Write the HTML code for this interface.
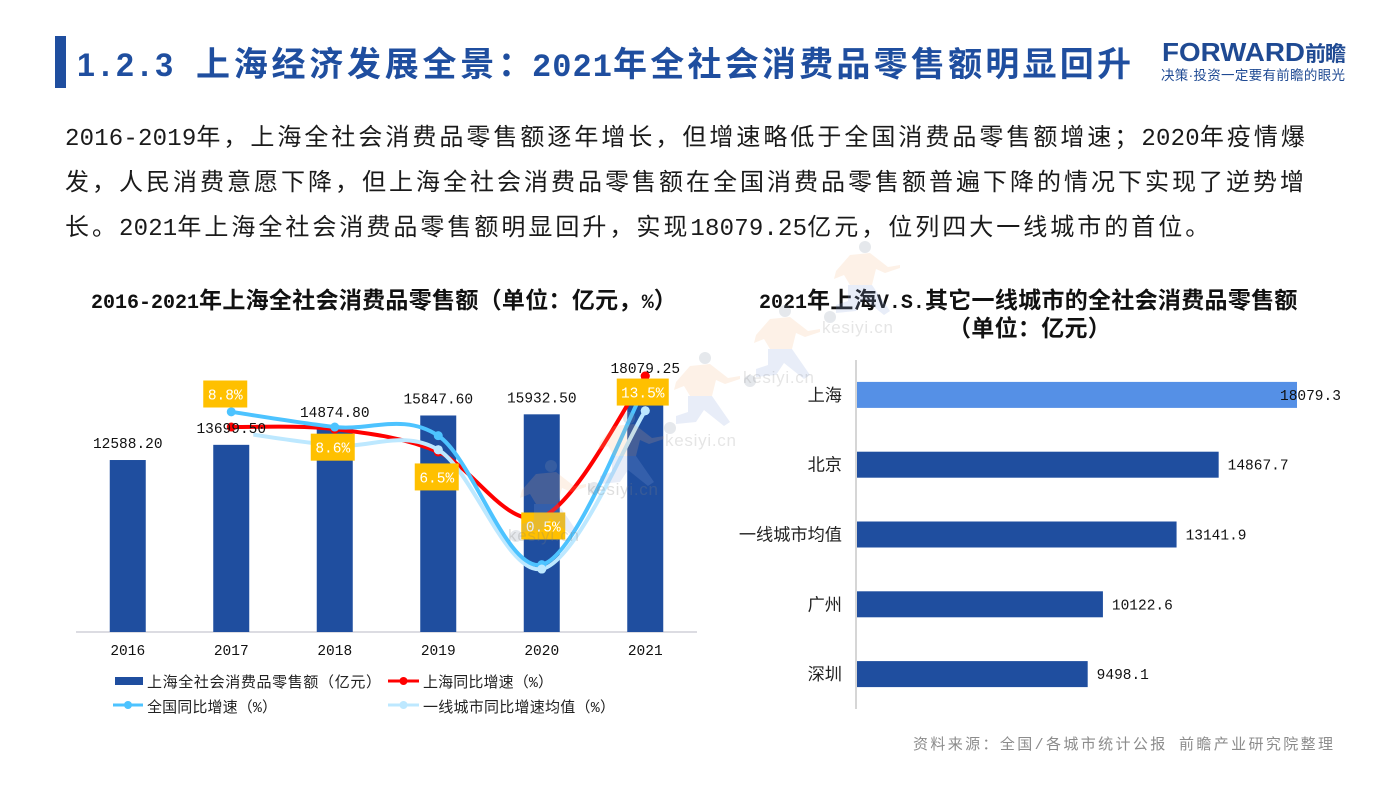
<!DOCTYPE html>
<html lang="zh-CN">
<head>
<meta charset="utf-8">
<title>上海经济发展全景</title>
<style>
html,body{margin:0;padding:0;background:#fff;width:1400px;height:788px;overflow:hidden}
svg{display:block}
text{font-family:"Liberation Mono","Noto Sans CJK SC",monospace}
.cjk{font-family:"Liberation Sans","Noto Sans CJK SC",sans-serif}
.it{font-size:24px;letter-spacing:3px}
.il{font-size:24px;letter-spacing:.2px}
.tt{font-size:23px;letter-spacing:.3px}
.tl{font-size:20px;letter-spacing:0}
</style>
</head>
<body>
<svg id="slide" width="1400" height="788" viewBox="0 0 1400 788" xmlns="http://www.w3.org/2000/svg">
  <rect width="1400" height="788" fill="#ffffff"/>
  <defs>
    <g id="runner">
      <circle cx="35" cy="6" r="6" fill="#8a94a8" opacity=".22"/>
      <path d="M20 14 L40 12 L58 26 L70 24 L70 27 L55 32 L46 28 L42 44 L20 44 L14 34 L4 38 L6 30Z" fill="#f4b27a" opacity=".18"/>
      <path d="M18 44 L42 44 L60 70 L54 74 L34 58 L26 70 L6 72 L6 64 L18 60Z" fill="#8aa4dc" opacity=".2"/>
      <circle cx="0" cy="76" r="6" fill="#8a94a8" opacity=".22"/>
    </g>
  </defs>

  <rect x="55" y="36" width="11" height="52" fill="#1f4e9f"/>
  <text font-weight="700" fill="#1f4e9f" font-size="34" y="76">
    <tspan x="77" font-size="32" textLength="96" font-family="Liberation Sans">1.2.3</tspan>
    <tspan x="196" textLength="336">上海经济发展全景：</tspan>
    <tspan x="532" font-size="32" textLength="80">2021</tspan>
    <tspan x="613" textLength="518">年全社会消费品零售额明显回升</tspan>
  </text>

  <g id="logo">
    <text class="cjk" x="1162" y="61" font-size="26" font-weight="700" fill="#1f4a93" textLength="143" lengthAdjust="spacingAndGlyphs">FORWARD</text>
    <text class="cjk" x="1305" y="61" font-size="21" font-weight="700" fill="#1f4a93" textLength="41">前瞻</text>
    <text class="cjk" x="1161" y="80" font-size="13.5" fill="#1f4a93" textLength="184">决策·投资一定要有前瞻的眼光</text>
  </g>

  <g id="intro" fill="#1a1a1a">
    <text x="65" y="145"><tspan class="il">2016-2019</tspan><tspan class="it">年，上海全社会消费品零售额逐年增长，但增速略低于全国消费品零售额增速；</tspan><tspan class="il">2020</tspan><tspan class="it">年疫情爆</tspan></text>
    <text x="65" y="190" class="it">发，人民消费意愿下降，但上海全社会消费品零售额在全国消费品零售额普遍下降的情况下实现了逆势增</text>
    <text x="65" y="235"><tspan class="it">长。</tspan><tspan class="il">2021</tspan><tspan class="it">年上海全社会消费品零售额明显回升，实现</tspan><tspan class="il">18079.25</tspan><tspan class="it">亿元，位列四大一线城市的首位。</tspan></text>
  </g>

  <text x="91" y="308" font-weight="700" fill="#111"><tspan class="tl">2016-2021</tspan><tspan class="tt">年上海全社会消费品零售额（单位：亿元，</tspan><tspan class="tl">%</tspan><tspan class="tt">）</tspan></text>
  <text x="759" y="308" font-weight="700" fill="#111"><tspan class="tl">2021</tspan><tspan class="tt">年上海</tspan><tspan class="tl">V.S.</tspan><tspan class="tt">其它一线城市的全社会消费品零售额</tspan></text>
  <text x="948" y="336" font-weight="700" fill="#111" class="tt">（单位：亿元）</text>

  <g id="left-chart"></g>
  <g id="right-chart"></g>

  <g id="watermarks">
    <use href="#runner" x="830" y="241"/>
    <use href="#runner" x="750" y="305"/>
    <use href="#runner" x="670" y="352"/>
    <use href="#runner" x="594" y="412"/>
    <use href="#runner" x="516" y="460"/>
    <text class="cjk" x="822" y="333" font-size="17" fill="#808080" opacity=".2" textLength="71">kesiyi.cn</text>
    <text class="cjk" x="743" y="383" font-size="17" fill="#808080" opacity=".2" textLength="71">kesiyi.cn</text>
    <text class="cjk" x="665" y="446" font-size="17" fill="#808080" opacity=".2" textLength="71">kesiyi.cn</text>
    <text class="cjk" x="587" y="495" font-size="17" fill="#808080" opacity=".25" textLength="71">kesiyi.cn</text>
    <text class="cjk" x="508" y="541" font-size="17" fill="#808080" opacity=".25" textLength="71">kesiyi.cn</text>
  </g>

  <text x="913" y="749" font-size="15" fill="#8c8c8c" textLength="420">资料来源：全国/各城市统计公报 前瞻产业研究院整理</text>
</svg>

<script>
const years = ['2016', '2017', '2018', '2019', '2020', '2021'];
const retailSales = [12588.20, 13699.50, 14874.80, 15847.60, 15932.50, 18079.25];
const shanghaiGrowth = [null, 8.8, 8.6, 6.5, 0.5, 13.5];
const nationalGrowth = [null, 10.2, 8.8, 8.0, -3.9, 12.5];
const tierOneGrowth = [null, 8.4, 7.1, 6.7, -4.3, 10.3];

const cities = ['上海', '北京', '一线城市均值', '广州', '深圳'];
const citySales = [18079.3, 14867.7, 13141.9, 10122.6, 9498.1];

const NS = 'http://www.w3.org/2000/svg';
const BAR_BLUE = '#1f4e9f';

function make(parent, tag, attrs, name, text) {
  const el = document.createElementNS(NS, tag);
  for (const k in attrs) el.setAttribute(k, attrs[k]);
  
  
  if (text !== undefined) el.textContent = text;
  parent.appendChild(el);
  return el;
}

/* ---------- left combo chart ---------- */
const left = document.getElementById('left-chart');
const plotLeft = 76, plotRight = 697, baseY = 632;
const band = (plotRight - plotLeft) / years.length;
const xYear = i => plotLeft + band * (i + 0.5);
const yBar = v => baseY - v * 0.013662;
const yRate = v => 522.4 - v * 10.84;

make(left, 'line', {x1: plotLeft, x2: plotRight, y1: baseY, y2: baseY, stroke: '#d0d0d8', 'stroke-width': 1.5}, 'x-axis-line');

years.forEach((yr, i) => {
  const top = yBar(retailSales[i]);
  make(left, 'rect', {x: xYear(i) - 18, y: top, width: 36, height: baseY - top, fill: BAR_BLUE}, 'bar-' + yr);
  make(left, 'text', {x: xYear(i), y: 655, 'text-anchor': 'middle', 'font-size': 14.5, fill: '#111'}, 'x-tick-' + yr, yr);
});

function smoothPath(values) {
  const pts = [];
  values.forEach((v, i) => { if (v !== null) pts.push([xYear(i), yRate(v)]); });
  let d = 'M' + pts[0][0] + ' ' + pts[0][1];
  for (let i = 0; i < pts.length - 1; i++) {
    const p0 = pts[Math.max(i - 1, 0)], p1 = pts[i], p2 = pts[i + 1], p3 = pts[Math.min(i + 2, pts.length - 1)];
    const c1x = p1[0] + (p2[0] - p0[0]) / 6, c1y = p1[1] + (p2[1] - p0[1]) / 6;
    const c2x = p2[0] - (p3[0] - p1[0]) / 6, c2y = p2[1] - (p3[1] - p1[1]) / 6;
    d += ' C' + c1x + ' ' + c1y + ' ' + c2x + ' ' + c2y + ' ' + p2[0] + ' ' + p2[1];
  }
  return d;
}

function drawSeries(parent, values, color, name) {
  make(parent, 'path', {d: smoothPath(values), fill: 'none', stroke: color, 'stroke-width': 4, 'stroke-linecap': 'round'}, name + '-line');
  values.forEach((v, i) => {
    if (v === null) return;
    make(parent, 'circle', {cx: xYear(i), cy: yRate(v), r: 4.5, fill: color}, name + '-point-' + years[i]);
  });
}

/* the first 2017 label hides the start of the averaged series */
const clip = make(left, 'clipPath', {id: 'tier-one-clip'}, 'tier-one-clip');
make(clip, 'rect', {x: xYear(1) + 22, y: 300, width: plotRight, height: 332}, 'tier-one-clip-rect');

drawSeries(left, shanghaiGrowth, '#ff0000', 'shanghai-growth');
const tierGroup = make(left, 'g', {'clip-path': 'url(#tier-one-clip)'}, 'tier-one-growth');
drawSeries(tierGroup, tierOneGrowth, '#bde8ff', 'tier-one-growth');
drawSeries(left, nationalGrowth, '#4dc3ff', 'national-growth');

years.forEach((yr, i) => {
  make(left, 'text', {x: xYear(i), y: yBar(retailSales[i]) - 12, 'text-anchor': 'middle', 'font-size': 14.5, fill: '#111'}, 'bar-value-' + yr, retailSales[i].toFixed(2));
});

/* these markers sit above the other series and the value labels */
tierOneGrowth.forEach((v, i) => {
  if (v === null || i < 3) return;
  make(left, 'circle', {cx: xYear(i), cy: yRate(v), r: 4.5, fill: '#bde8ff'}, 'tier-one-growth-top-point-' + years[i]);
});
make(left, 'circle', {cx: xYear(5), cy: yRate(shanghaiGrowth[5]), r: 4.5, fill: '#ff0000'}, 'shanghai-growth-top-point-2021');

/* callouts for the Shanghai series */
shanghaiGrowth.forEach((v, i) => {
  if (v === null) return;
  let shift = 18, nudge = 0;
  if (i === 1) { shift = -33; nudge = -6; }
  if (i === 2) nudge = -2;
  if (i === 3) { shift = 25; nudge = -1.5; }
  if (i === 4) { shift = 9; nudge = 1.5; }
  if (i === 5) { shift = 16; nudge = -2.5; }
  const cx = xYear(i) + nudge;
  const cy = yRate(v) + shift;
  const w = v >= 10 ? 52 : 44;
  make(left, 'rect', {x: cx - w / 2, y: cy - 13.5, width: w, height: 27, fill: '#ffc000'}, 'growth-callout-box-' + years[i]);
  make(left, 'text', {x: cx, y: cy + 5.5, 'text-anchor': 'middle', 'font-size': 14.5, fill: '#fff'}, 'growth-callout-' + years[i], v.toFixed(1) + '%');
});

/* legend */
const legendFont = {'font-size': 15, fill: '#222'};
make(left, 'rect', {x: 115, y: 677, width: 28, height: 8, fill: BAR_BLUE}, 'legend-swatch-sales');
make(left, 'text', Object.assign({x: 147, y: 687, textLength: 234}, legendFont), 'legend-label-sales', '上海全社会消费品零售额（亿元）');
make(left, 'line', {x1: 388, x2: 419, y1: 681, y2: 681, stroke: '#ff0000', 'stroke-width': 3}, 'legend-line-shanghai');
make(left, 'circle', {cx: 403.5, cy: 681, r: 4, fill: '#ff0000'}, 'legend-marker-shanghai');
make(left, 'text', Object.assign({x: 423, y: 687, textLength: 130}, legendFont), 'legend-label-shanghai', '上海同比增速（%）');
make(left, 'line', {x1: 113, x2: 143, y1: 705, y2: 705, stroke: '#4dc3ff', 'stroke-width': 3}, 'legend-line-national');
make(left, 'circle', {cx: 128, cy: 705, r: 4, fill: '#4dc3ff'}, 'legend-marker-national');
make(left, 'text', Object.assign({x: 147, y: 712, textLength: 130}, legendFont), 'legend-label-national', '全国同比增速（%）');
make(left, 'line', {x1: 388, x2: 419, y1: 705, y2: 705, stroke: '#bde8ff', 'stroke-width': 3}, 'legend-line-tier-one');
make(left, 'circle', {cx: 403.5, cy: 705, r: 4, fill: '#bde8ff'}, 'legend-marker-tier-one');
make(left, 'text', Object.assign({x: 423, y: 712, textLength: 192}, legendFont), 'legend-label-tier-one', '一线城市同比增速均值（%）');

/* ---------- right bar chart ---------- */
const right = document.getElementById('right-chart');
const axisX = 856, topY = 360, bottomY = 709;
const rowH = (bottomY - topY) / cities.length;
const xCity = v => axisX + v * 0.024393;
const yCity = i => topY + rowH * (i + 0.5);

make(right, 'line', {x1: axisX, x2: axisX, y1: topY, y2: bottomY, stroke: '#c8c8c8', 'stroke-width': 1.5}, 'y-axis-line');
cities.forEach((c, i) => {
  const end = xCity(citySales[i]);
  make(right, 'rect', {x: axisX + 1, y: yCity(i) - 13, width: end - axisX - 1, height: 26, fill: i === 0 ? '#5590e6' : BAR_BLUE}, 'city-bar-' + i);
  make(right, 'text', {x: 842, y: yCity(i) + 6, 'text-anchor': 'end', 'font-size': 17.2, fill: '#222'}, 'city-label-' + i, c);
  make(right, 'text', {x: i === 0 ? end - 17 : end + 9, y: yCity(i) + 5, 'font-size': 14.5, fill: '#111'}, 'city-value-' + i, citySales[i].toFixed(1));
});
</script>
</body>
</html>
